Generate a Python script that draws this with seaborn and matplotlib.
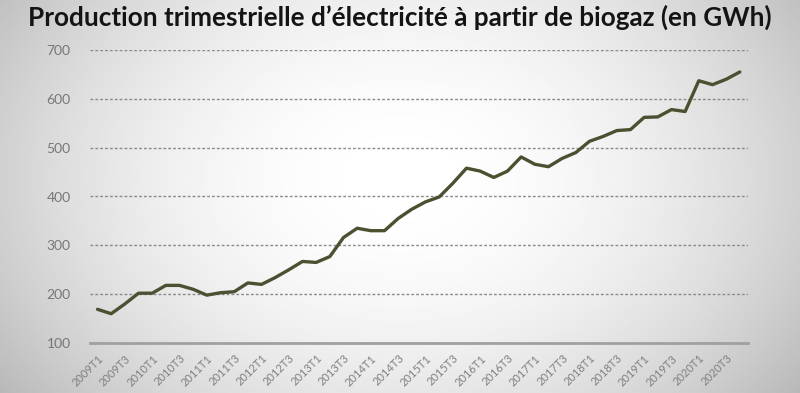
import numpy as np
import pandas as pd
import matplotlib
matplotlib.use("Agg")
import matplotlib.pyplot as plt
import seaborn as sns

years = list(range(2009, 2021))
quarters = [f"{y}T{q}" for y in years for q in (1, 2, 3, 4)]
production_gwh = [
    169, 160, 180, 202, 202, 218, 218, 210,
    198, 203, 205, 223, 220, 234, 250, 267,
    265, 277, 316, 335, 330, 330, 355, 374,
    389, 399, 427, 458, 452, 439, 452, 481,
    466, 461, 478, 490, 513, 523, 535, 537,
    562, 563, 578, 574, 637, 629, 640, 655,
]
tick_labels = quarters[::2]
y_ticks = [100, 200, 300, 400, 500, 600, 700]
title = "Production trimestrielle d\u2019électricité à partir de biogaz (en GWh)"

df = pd.DataFrame({"trimestre": quarters, "GWh": production_gwh})

sns.set_theme(style="white")
plt.rcParams["font.family"] = ["Lato", "DejaVu Sans"]

fig = plt.figure(figsize=(8.0, 3.93), dpi=100)

# background gradient (style only)
bg = fig.add_axes([0, 0, 1, 1], zorder=-10)
xx, yy = np.meshgrid(np.linspace(-1, 1, 400), np.linspace(-1, 1, 200))
r = np.sqrt((xx / 1.05) ** 2 + ((yy + 0.1) / 1.6) ** 2)
bg.imshow(1 - 0.2 * np.clip(r, 0, 1.3) ** 2, cmap="gray", vmin=0, vmax=1,
          aspect="auto", extent=[0, 1, 0, 1])
bg.set_axis_off()

ax = fig.add_axes([0.1125, 0.1272, 0.8225, 0.7456])
ax.patch.set_alpha(0)

sns.lineplot(data=df, x="trimestre", y="GWh", ax=ax, sort=False,
             color="#4a5131", linewidth=2.4, zorder=3)

ax.set_ylim(100, 700)
ax.set_xlim(-0.55, 47.6)
ax.set_yticks(y_ticks)
ax.set_yticklabels([str(v) for v in y_ticks], color="#777777", fontsize=10)
ax.set_xticks(range(0, len(quarters), 2))
ax.set_xticklabels(tick_labels, rotation=45, ha="right", rotation_mode="anchor",
                   color="#808080", fontsize=8)
ax.tick_params(axis="y", length=0, pad=14)
ax.tick_params(axis="x", length=5, width=1, color="#a8a8a8", direction="out", pad=2)
for v in y_ticks[1:]:
    ax.axhline(v, color="#8a8a8a", linestyle=(0, (2, 1.5)), linewidth=1.0, zorder=1)
for s in ["top", "right", "left"]:
    ax.spines[s].set_visible(False)
ax.spines["bottom"].set_color("#a0a0a0")
ax.spines["bottom"].set_linewidth(2)
ax.set_xlabel("")
ax.set_ylabel("")

fig.text(0.5, 0.955, title, ha="center", va="center", fontsize=18.8,
         fontweight="bold", color="#141414")

fig.savefig("out.png", dpi=100)
